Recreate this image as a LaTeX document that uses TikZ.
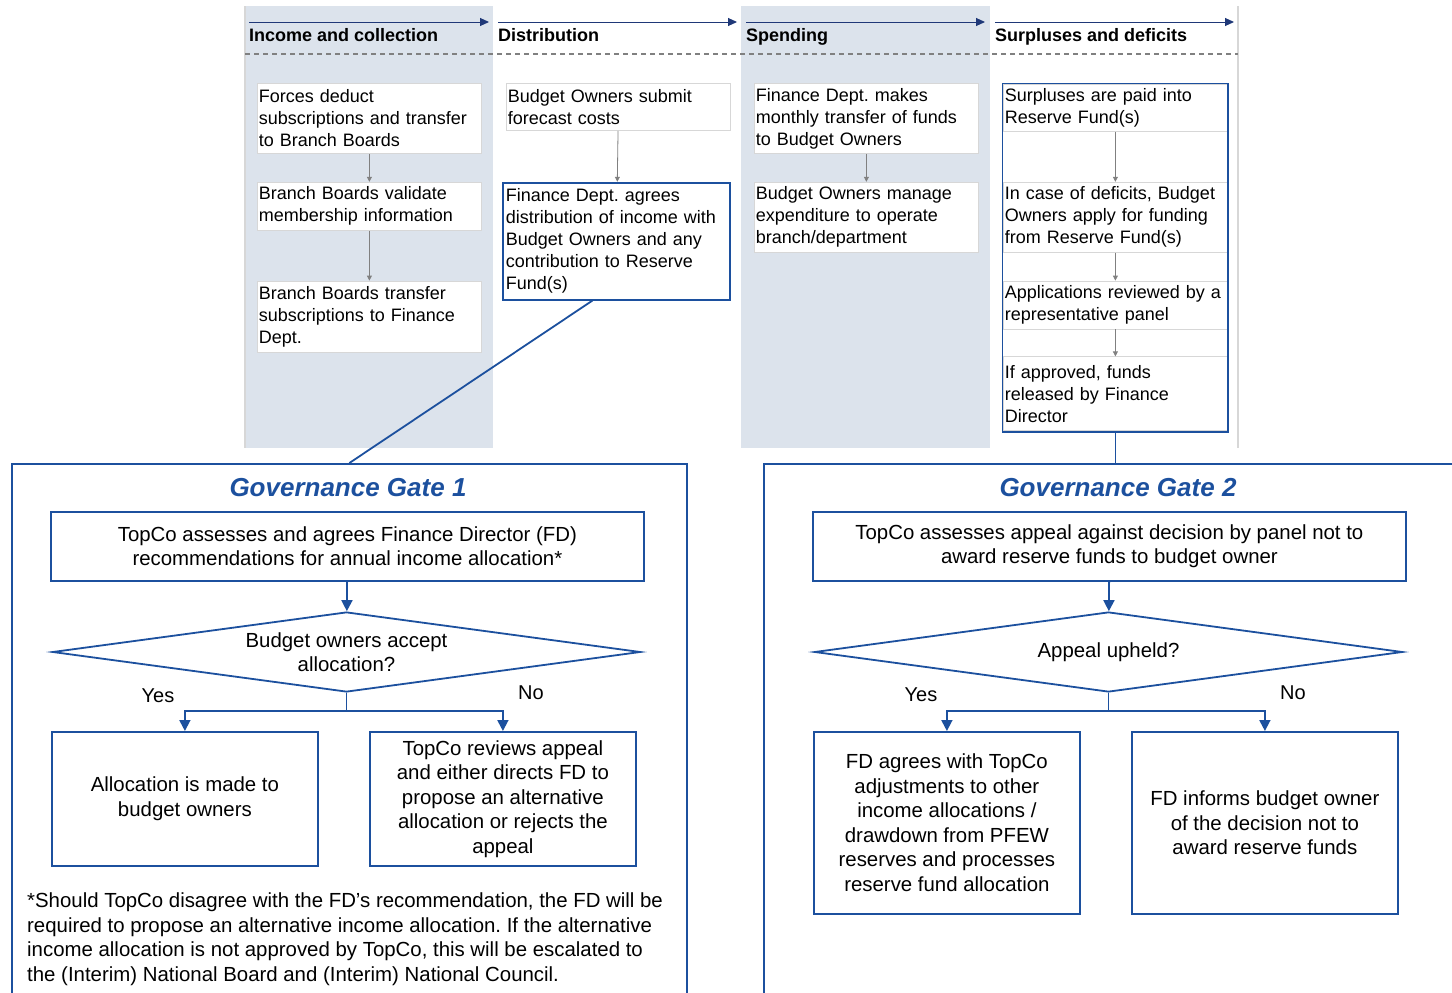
\documentclass[tikz,border=0pt]{standalone}
\usepackage{fontspec}
\setmainfont{Liberation Sans}
\usepackage{tikz}
\usetikzlibrary{arrows.meta,positioning,fit,shapes.geometric}
\definecolor{gateblue}{RGB}{28,80,158}
\definecolor{headnavy}{RGB}{31,56,120}
\definecolor{colshade}{RGB}{220,227,236}
\definecolor{boxgray}{RGB}{215,215,215}
\definecolor{linegray}{RGB}{128,128,128}
\frenchspacing

\begin{document}
\begin{tikzpicture}
	[ x=1pt, y=-1pt, node distance=28pt and 0pt,
		stagebox/.style={rectangle,draw=boxgray,fill=white,line width=0.8pt,minimum width=224pt,text width=221pt,inner xsep=1.5pt,inner ysep=2pt,align=left,font=\fontsize{18}{22}\selectfont},
		keybox/.style={draw=gateblue,line width=1.8pt},
		stagehead/.style={anchor=base west,inner sep=0pt,font=\fontsize{18}{22}\selectfont\bfseries},
		gateframe/.style={rectangle,draw=gateblue,line width=1.8pt,anchor=north west,minimum height=600pt},
		gatetitle/.style={text=gateblue,font=\fontsize{26}{30}\selectfont\bfseries\itshape},
		gatebox/.style={rectangle,draw=gateblue,fill=white,line width=1.8pt,align=center,font=\fontsize{20.4}{24.5}\selectfont},
		decision/.style={diamond,draw=gateblue,line width=1.8pt,aspect=7,inner sep=0pt,minimum width=588pt,minimum height=80pt,align=center,font=\fontsize{20.4}{24.5}\selectfont},
		answer/.style={font=\fontsize{20}{24}\selectfont},
		arrowStage/.style={->,>={Triangle[width=5pt,length=5pt]},draw=linegray,line width=0.8pt},
		arrowHead/.style={->,>={Triangle[width=8pt,length=9pt]},draw=headnavy,line width=1pt},
		arrowGate/.style={->,>={Triangle[width=11pt,length=11pt]},draw=gateblue,line width=1.8pt},
		lineGate/.style={draw=gateblue,line width=1.8pt}]

	\useasboundingbox (0,0) rectangle (1452,993);
	\clip (0,0) rectangle (1452,993);

	\fill[colshade] (245,6) rectangle (493,448);
	\fill[colshade] (741,6) rectangle (990,448);
	\draw[boxgray,line width=1.5pt] (245,6) -- (245,448);
	\draw[boxgray,line width=1.5pt] (1238,6) -- (1238,448);
	\draw[linegray,line width=1.2pt,dash pattern=on 5pt off 4pt] (245,54) -- (1238,54);

	\draw[arrowHead] (249,22) -- (489,22);
	\draw[arrowHead] (498,22) -- (737,22);
	\draw[arrowHead] (746,22) -- (985,22);
	\draw[arrowHead] (995,22) -- (1234,22);
	\node[stagehead] (income) at (249,41) {Income and collection};
	\node[stagehead] (distribution) at (498,41) {Distribution};
	\node[stagehead] (spending) at (746,41) {Spending};
	\node[stagehead] (surpluses) at (995,41) {Surpluses and deficits};

	\node[stagebox,anchor=north west,minimum height=70pt] (forces) at (257,83) {Forces deduct\\subscriptions and transfer\\to Branch Boards};
	\node[stagebox,minimum height=48pt] (validate) [below=of forces] {Branch Boards validate\\membership information};
	\node[stagebox,minimum height=71pt] (transfer) [below=50pt of validate] {Branch Boards transfer\\subscriptions to Finance\\Dept.};

	\node[stagebox,anchor=north west,minimum height=47pt] (forecast) at (506,83) {Budget Owners submit\\forecast costs};
	\node[stagebox,keybox,minimum height=117pt,minimum width=227pt,xshift=-2pt] (agrees) [below=51pt of forecast] {Finance Dept. agrees\\distribution of income with\\Budget Owners and any\\contribution to Reserve\\Fund(s)};

	\node[stagebox,anchor=north west,minimum height=70pt] (monthly) at (754,83) {Finance Dept. makes\\monthly transfer of funds\\to Budget Owners};
	\node[stagebox,minimum height=70pt] (manage) [below=of monthly] {Budget Owners manage\\expenditure to operate\\branch/department};

	\node[stagebox,anchor=north west,minimum height=47pt] (paid) at (1003,84) {Surpluses are paid into\\Reserve Fund(s)};
	\node[stagebox,minimum height=70pt] (deficits) [below=50pt of paid] {In case of deficits, Budget\\Owners apply for funding\\from Reserve Fund(s)};
	\node[stagebox,minimum height=48pt] (reviewed) [below=of deficits] {Applications reviewed by a\\representative panel};
	\node[stagebox,minimum height=74pt] (released) [below=27pt of reviewed] {If approved, funds\\released by Finance\\Director};
	\node[keybox,fit=(paid)(released),inner sep=0.5pt] (reserve) {};

	\draw[arrowStage] (forces) -- (validate);
	\draw[arrowStage] (validate) -- (transfer);
	\draw[arrowStage] (forecast) -- (agrees);
	\draw[arrowStage] (monthly) -- (manage);
	\draw[arrowStage] (paid) -- (deficits);
	\draw[arrowStage] (deficits) -- (reviewed);
	\draw[arrowStage] (reviewed) -- (released);

	\node[gateframe,minimum width=675pt] (gateone) at (11,463) {};
	\node[gateframe,minimum width=720pt] (gatetwo) at (763,463) {};
	\draw[lineGate] ([xshift=-24pt]agrees.south) -- (gateone.north);
	\draw[lineGate] (reserve.south) -- (reserve.south |- gatetwo.north);

	\node[gatetitle] (titleone) at (348,488) {Governance Gate 1};
	\node[gatebox,anchor=north west,minimum width=593pt,minimum height=69pt] (assessone) at (50,511) {TopCo assesses and agrees Finance Director (FD)\\recommendations for annual income allocation*};
	\node[decision] (accept) at (346.5,652) {Budget owners accept\\allocation?};
	\node[gatebox,anchor=north west,minimum width=266pt,minimum height=134pt] (allocated) at (51,731) {Allocation is made to\\budget owners};
	\node[gatebox,anchor=north west,minimum width=266pt,minimum height=134pt] (appeal) at (369,731) {TopCo reviews appeal\\and either directs FD to\\propose an alternative\\allocation or rejects the\\appeal};
	\node[answer] (yesone) at (158,696) {Yes};
	\node[answer] (noone) at (531,693) {No};
	\node[anchor=north west,align=left,inner sep=0pt,font=\fontsize{20.4}{24.5}\selectfont] (footnote) at (27,893) {*Should TopCo disagree with the FD’s recommendation, the FD will be\\required to propose an alternative income allocation. If the alternative\\income allocation is not approved by TopCo, this will be escalated to\\the (Interim) National Board and (Interim) National Council.};

	\draw[arrowGate] (assessone) -- (accept);
	\draw[arrowGate] (accept.south) -- ++(0,18) -| (allocated.north);
	\draw[arrowGate] (accept.south) -- ++(0,18) -| (appeal.north);

	\node[gatetitle] (titletwo) at (1118,488) {Governance Gate 2};
	\node[gatebox,anchor=north west,minimum width=593pt,minimum height=69pt] (assesstwo) at (812,511) {TopCo assesses appeal against decision by panel not to\\award reserve funds to budget owner};
	\node[decision] (upheld) at (1108.5,652) {Appeal upheld?};
	\node[gatebox,anchor=north west,minimum width=266pt,minimum height=182pt] (adjust) at (813,731) {FD agrees with TopCo\\adjustments to other\\income allocations /\\drawdown from PFEW\\reserves and processes\\reserve fund allocation};
	\node[gatebox,anchor=north west,minimum width=266pt,minimum height=182pt] (informs) at (1131,731) {FD informs budget owner\\of the decision not to\\award reserve funds};
	\node[answer] (yestwo) at (921,695) {Yes};
	\node[answer] (notwo) at (1293,693) {No};

	\draw[arrowGate] (assesstwo) -- (upheld);
	\draw[arrowGate] (upheld.south) -- ++(0,18) -| (adjust.north);
	\draw[arrowGate] (upheld.south) -- ++(0,18) -| (informs.north);
\end{tikzpicture}
\end{document}
